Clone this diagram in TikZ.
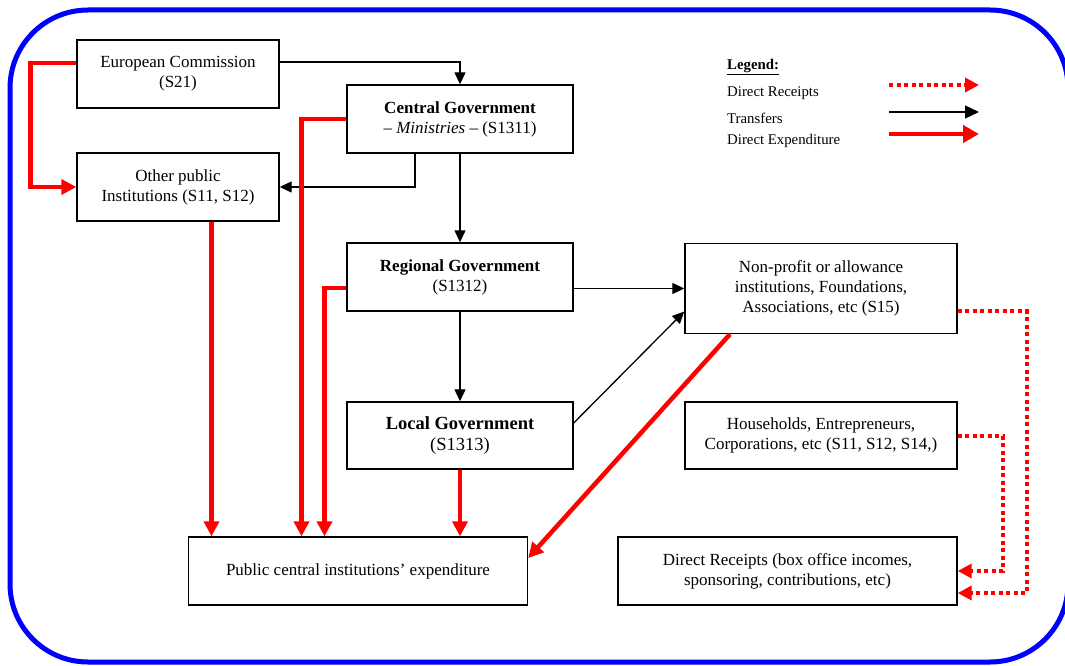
\documentclass[tikz,border=0pt]{standalone}
\usepackage{fontspec}
\setmainfont{Liberation Serif}
\usetikzlibrary{arrows.meta,calc}
\begin{document}
\begin{tikzpicture}[x=1pt,y=-1pt,
  box/.style={draw=black,line width=1.4pt,align=center,inner sep=2pt,
    font=\fontsize{17}{20}\selectfont},
  tr/.style={draw=black,line width=1.3pt,-{Triangle[length=12pt,width=11pt]}},
  dexp/.style={draw=red,line width=4.5pt,-{Triangle[length=15pt,width=15pt]}},
  drec/.style={draw=red,line width=4pt,dash pattern=on 4pt off 3.5pt,
    -{Triangle[length=14pt,width=14pt]}},
  legtext/.style={anchor=west,inner sep=0pt,font=\fontsize{14.8}{16}\selectfont}]
\useasboundingbox (0,0) rectangle (1065,666);
\draw[blue,line width=5pt,rounded corners=78pt] (10,10) rectangle (1068,662);
% boxes
\node[box,minimum width=202pt,minimum height=68pt] (ec) at (178,74) {European Commission\\(S21)};
\node[box,minimum width=226pt,minimum height=68pt] (cg) at (460,119) {\textbf{Central Government}\\– \textit{Ministries} – (S1311)};
\node[box,minimum width=202pt,minimum height=68pt] (op) at (178,187) {Other public\\Institutions (S11, S12)};
\node[box,minimum width=226pt,minimum height=68pt] (rg) at (460,277) {\textbf{Regional Government}\\(S1312)};
\node[box,minimum width=226pt,minimum height=67pt,font=\fontsize{18.5}{21}\selectfont] (lg) at (460,435.5) {\textbf{Local Government}\\(S1313)};
\node[box,minimum width=272pt,minimum height=90pt] (np) at (821,288.5) {Non-profit or allowance\\institutions, Foundations,\\Associations, etc (S15)};
\node[box,minimum width=272pt,minimum height=67pt] (hh) at (821,435.5) {Households, Entrepreneurs,\\Corporations, etc (S11, S12, S14,)};
\node[box,minimum width=339pt,minimum height=68pt] (pc) at (358,571) {Public central institutions’ expenditure};
\node[box,minimum width=339pt,minimum height=68pt] (dr) at (787.5,571) {Direct Receipts (box office incomes,\\sponsoring, contributions, etc)};
% transfers
\draw[tr] ([yshift=12pt]ec.east) -| (cg.north);
\draw[tr] ([xshift=-45pt]cg.south) |- (op.east);
\draw[tr] (cg.south) -- (rg.north);
\draw[tr] (rg.south) -- (lg.north);
\draw[tr] ([yshift=-11.5pt]rg.east) -- (np.west);
\draw[tr] ([yshift=12.5pt]lg.east) -- ([yshift=-23pt]np.west);
% direct expenditure
\draw[dexp] ([yshift=11pt]ec.west) -- ++(-46,0) |- (op.west);
\draw[dexp] (cg.west) -| ([xshift=-56.5pt]pc.north);
\coordinate (opx) at ([xshift=33.5pt]op.south);
\draw[dexp] (opx) -- (opx |- pc.north);
\draw[dexp] ([yshift=-11pt]rg.west) -| ([xshift=-33.5pt]pc.north);
\draw[dexp] (lg.south) -- (lg.south |- pc.north);
\draw[dexp] ([xshift=-91pt]np.south) -- ([yshift=13pt]pc.east);
% direct receipts
\draw[drec] ([yshift=-22.5pt]np.east) -- ++(69,0) |- ([yshift=-22pt]dr.east);
\draw[drec] (hh.east) -- ++(45,0) |- (dr.east);
% legend
\node[legtext] (lgt) at (727,67) {\underline{\textbf{Legend:}}};
\node[legtext] (l1) at (727,93) {Direct Receipts};
\node[legtext] (l2) at (727,118) {Transfers};
\node[legtext] (l3) at (727,141) {Direct Expenditure};
\coordinate (a1s) at (889,85); \coordinate (a1e) at (979,85);
\coordinate (a2s) at (889,112); \coordinate (a2e) at (979,112);
\coordinate (a3s) at (889,134); \coordinate (a3e) at (979,134);
\draw[drec] (a1s) -- (a1e);
\draw[tr,-{Triangle[length=14pt,width=13pt]}] (a2s) -- (a2e);
\draw[dexp,-{Triangle[length=16pt,width=17pt]}] (a3s) -- (a3e);
\end{tikzpicture}
\end{document}
